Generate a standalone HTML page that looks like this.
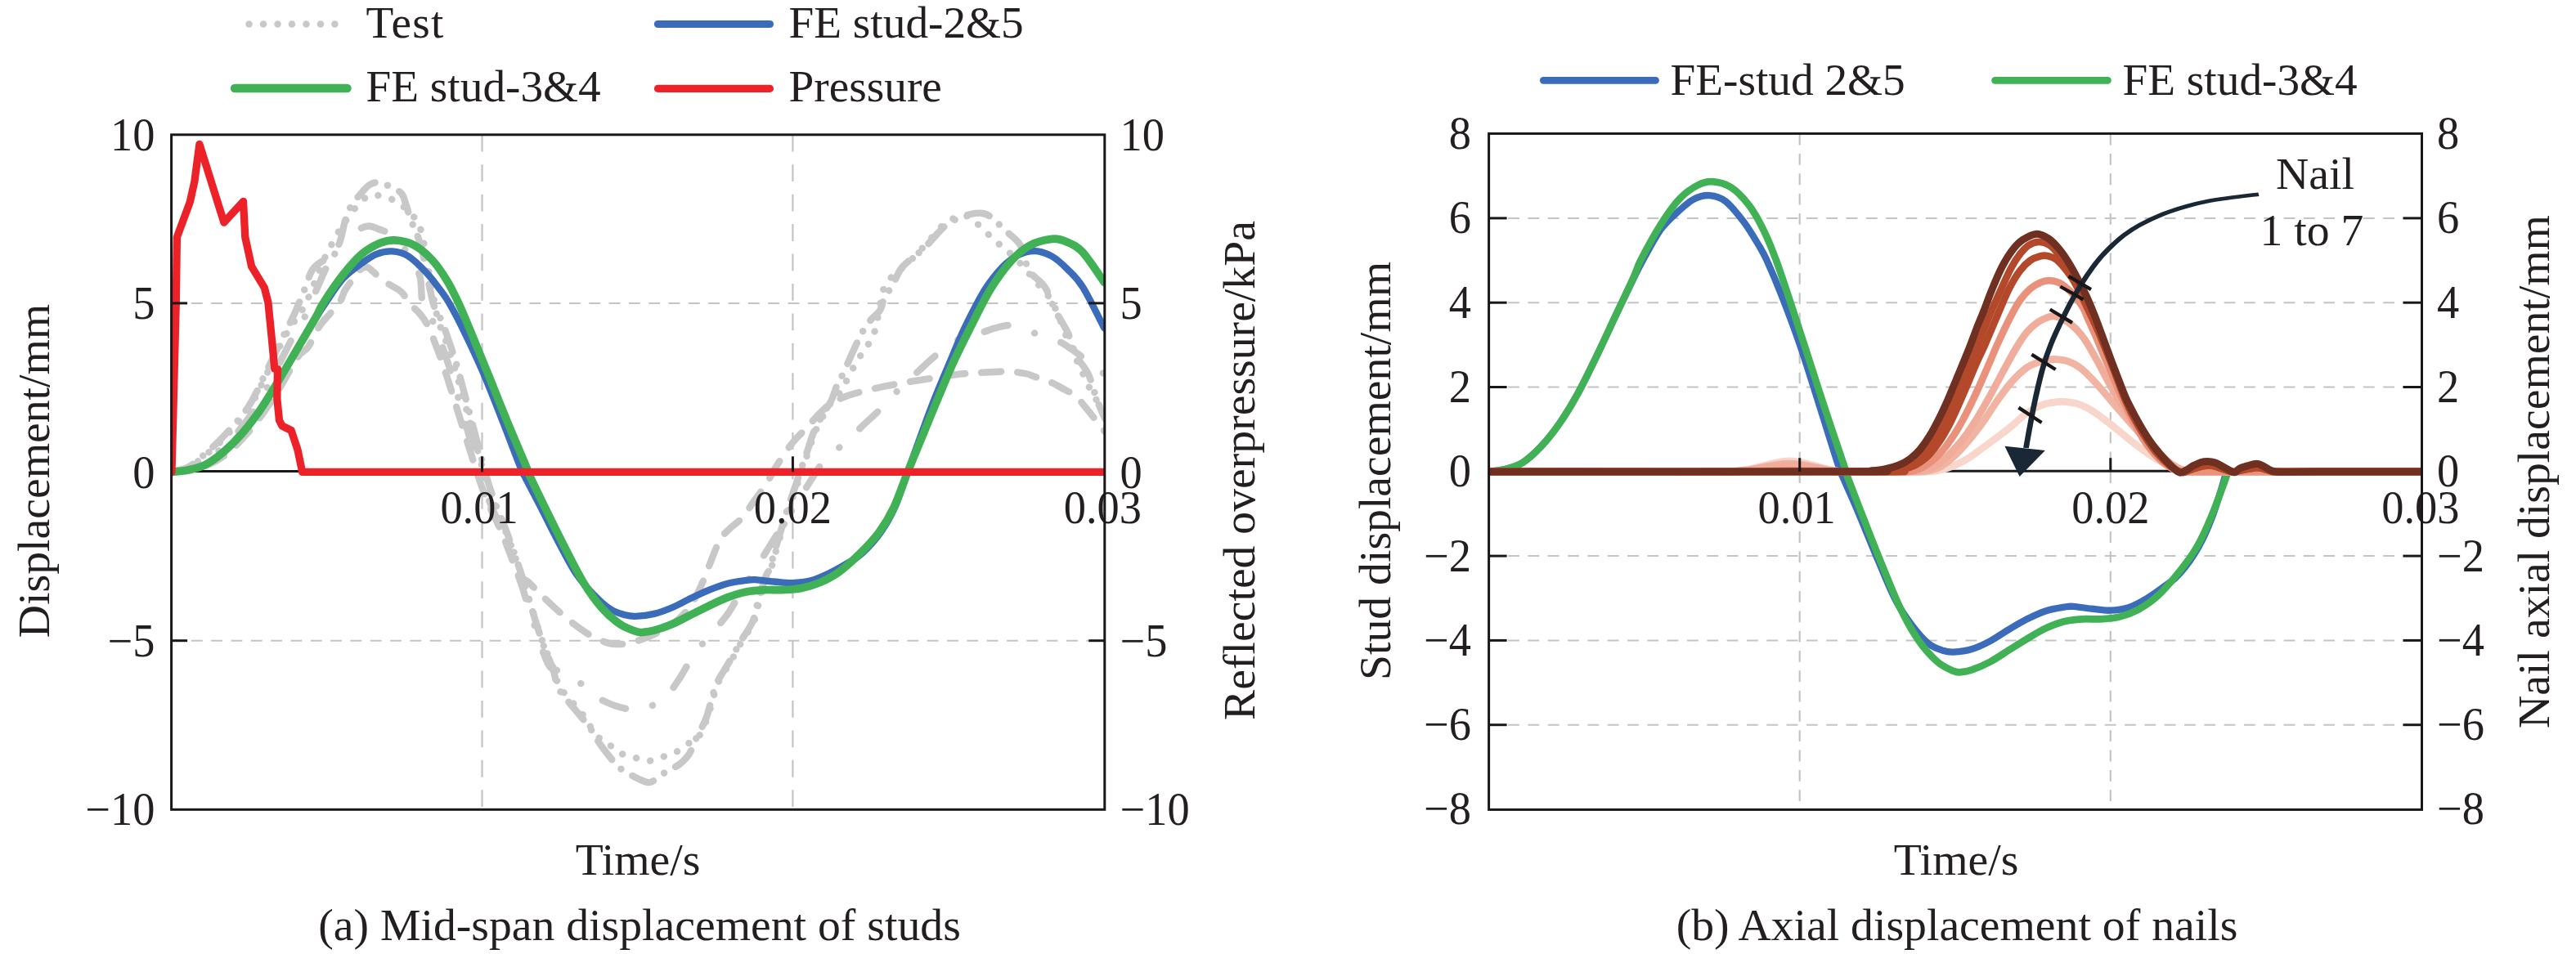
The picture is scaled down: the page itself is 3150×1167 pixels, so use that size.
<!DOCTYPE html>
<html lang="en"><head><meta charset="utf-8"><title>Figure</title>
<style>html,body{margin:0;padding:0;background:#fff}body{width:3150px;height:1167px;overflow:hidden}</style>
</head><body>
<svg width="3150" height="1167" viewBox="0 0 3150 1167" style="display:block;font-family:'Liberation Serif','Times New Roman',serif">
<rect width="3150" height="1167" fill="#fff"/>
<defs><clipPath id="cl"><rect x="209.6" y="164.8" width="1141.2" height="825.5"/></clipPath>
<clipPath id="cr"><rect x="1820.6" y="163.4" width="1140.9" height="827"/></clipPath></defs>
<g stroke="#c4c4c4" stroke-width="2" fill="none"><line x1="209.6" y1="370.9" x2="1350.8" y2="370.9" stroke-dasharray="13.8 10.52"/><line x1="209.6" y1="783.7" x2="1350.8" y2="783.7" stroke-dasharray="13.8 10.52"/><line x1="589.5" y1="164.8" x2="589.5" y2="987.3" stroke-dasharray="20.8 15.63" stroke-width="2.2"/><line x1="969.4" y1="164.8" x2="969.4" y2="987.3" stroke-dasharray="20.8 15.63" stroke-width="2.2"/></g>
<g clip-path="url(#cl)" fill="none" stroke="#c8c8c8" stroke-width="8.4" stroke-linecap="round" stroke-linejoin="round">
<path d="M210.0 577.0C213.3 576.2 223.2 575.3 230.0 572.0C236.8 568.7 243.5 563.2 251.0 557.0C258.5 550.8 266.2 544.5 275.0 535.0C283.8 525.5 295.7 512.5 304.0 500.0C312.3 487.5 318.2 473.7 325.0 460.0C331.8 446.3 339.2 429.2 345.0 418.0C350.8 406.8 355.5 400.2 360.0 393.0C364.5 385.8 367.8 383.0 372.0 375.0C376.2 367.0 381.2 354.2 385.0 345.0C388.8 335.8 392.0 326.8 395.0 320.0C398.0 313.2 400.2 309.5 403.0 304.0C405.8 298.5 409.2 292.0 412.0 287.0C414.8 282.0 417.0 278.5 420.0 274.0C423.0 269.5 426.3 264.7 430.0 260.0C433.7 255.3 438.0 249.6 442.0 246.0C446.0 242.4 449.3 239.3 454.0 238.5C458.7 237.7 464.7 239.6 470.0 241.0C475.3 242.4 481.1 244.1 486.0 247.0C490.9 249.9 495.3 254.3 499.5 258.5C503.7 262.7 508.2 267.2 511.0 272.0C513.8 276.8 514.6 281.7 516.0 287.0C517.4 292.3 518.2 296.8 519.5 304.0C520.8 311.2 522.5 321.3 524.0 330.0C525.5 338.7 527.4 348.8 528.7 356.0C530.0 363.2 530.8 367.0 532.0 373.0C533.2 379.0 533.6 384.7 535.8 392.0C538.0 399.3 542.2 408.7 545.2 417.0C548.2 425.3 551.0 433.7 553.6 442.0C556.2 450.3 558.6 458.7 561.0 467.0C563.4 475.3 565.6 483.7 567.9 492.0C570.2 500.3 572.5 508.7 574.8 517.0C577.1 525.3 579.4 533.7 581.7 542.0C583.9 550.3 586.2 558.7 588.5 567.0C590.9 575.3 593.2 583.7 595.9 592.0C598.6 600.3 601.5 608.7 604.7 617.0C608.0 625.3 611.9 633.7 615.2 642.0C618.6 650.3 621.7 658.7 624.8 667.0C627.8 675.3 630.8 683.7 633.6 692.0C636.5 700.3 639.3 708.7 642.0 717.0C644.6 725.3 647.1 733.7 649.7 742.0C652.3 750.3 654.8 758.7 657.6 767.0C660.3 775.3 663.0 783.7 666.2 792.0C669.4 800.3 673.9 809.3 676.6 817.0C679.4 824.7 680.4 832.5 683.0 838.0C685.6 843.5 687.2 844.2 692.0 850.0C696.8 855.8 706.5 866.1 711.5 872.6C716.5 879.1 717.9 883.3 721.8 888.7C725.7 894.1 730.9 901.1 735.0 905.0C739.1 908.9 742.5 909.4 746.7 912.2C750.9 915.0 755.0 919.5 760.0 921.9C765.0 924.3 771.1 925.4 776.7 926.9C782.3 928.4 788.2 930.9 793.7 930.7C799.2 930.6 804.4 927.7 809.8 926.0C815.2 924.3 821.0 923.0 826.0 920.4C831.0 917.8 835.7 912.8 840.0 910.2C844.3 907.6 848.0 909.9 852.0 905.0C856.0 900.1 861.2 887.3 864.0 881.0C866.8 874.7 866.3 874.2 868.5 867.0C870.7 859.8 873.9 845.8 877.0 838.0C880.1 830.2 883.8 825.5 887.0 820.0C890.2 814.5 892.7 810.8 896.0 805.0C899.3 799.2 902.7 792.5 907.0 785.0C911.3 777.5 918.3 768.7 922.0 760.0C925.7 751.3 926.3 742.2 929.0 733.0C931.7 723.8 935.7 711.3 938.0 705.0C940.3 698.7 941.0 700.8 943.0 695.0C945.0 689.2 947.4 678.8 950.0 670.0C952.6 661.2 955.9 650.7 958.6 642.0C961.3 633.3 963.4 625.8 966.0 618.0C968.6 610.2 971.3 602.8 974.0 595.0C976.7 587.2 979.3 578.8 982.0 571.0C984.7 563.2 987.7 554.8 990.0 548.0C992.3 541.2 993.2 536.7 996.0 530.0C998.8 523.3 1003.3 514.7 1007.0 508.0C1010.7 501.3 1014.3 495.0 1018.0 490.0C1021.7 485.0 1025.7 483.0 1029.0 478.0C1032.3 473.0 1034.8 466.0 1038.0 460.0C1041.2 454.0 1044.8 447.5 1048.0 442.0C1051.2 436.5 1054.3 431.8 1057.5 427.0C1060.7 422.2 1064.7 418.1 1067.0 413.0C1069.3 407.9 1070.3 402.0 1071.6 396.5C1072.9 391.0 1073.9 385.8 1075.0 380.0C1076.1 374.2 1076.5 367.7 1078.0 362.0C1079.5 356.3 1081.0 350.7 1084.0 346.0C1087.0 341.3 1091.8 337.9 1096.0 334.0C1100.2 330.1 1105.1 326.6 1109.4 322.6C1113.7 318.6 1117.2 315.1 1122.0 310.0C1126.8 304.9 1132.4 298.2 1138.0 292.0C1143.6 285.8 1150.3 277.3 1155.6 273.0C1160.9 268.7 1165.4 267.4 1170.0 266.0C1174.6 264.6 1179.3 263.8 1183.0 264.5C1186.7 265.2 1189.2 267.6 1192.0 270.0C1194.8 272.4 1196.1 275.2 1199.6 278.6C1203.1 282.0 1208.7 286.7 1213.0 290.6C1217.3 294.5 1221.5 298.5 1225.7 302.2C1229.9 305.9 1234.1 308.7 1238.3 312.6C1242.5 316.5 1246.1 320.4 1250.9 325.8C1255.7 331.2 1261.5 338.5 1267.0 345.0C1272.5 351.5 1279.2 357.8 1283.9 365.0C1288.6 372.2 1291.6 380.0 1295.0 388.0C1298.4 396.0 1301.8 406.2 1304.5 413.0C1307.2 419.8 1308.2 422.3 1311.0 428.5C1313.8 434.7 1317.4 442.2 1321.0 450.0C1324.6 457.8 1329.1 468.3 1332.8 475.5C1336.5 482.7 1340.0 487.8 1343.0 493.0C1346.0 498.2 1349.7 504.7 1351.0 507.0" stroke-dasharray="0.1 17.4"/>
<path d="M210.0 577.0C213.3 576.1 223.2 575.2 230.0 571.5C236.8 567.8 243.5 561.6 251.0 555.0C258.5 548.4 266.2 541.7 275.0 532.0C283.8 522.3 295.7 509.7 304.0 497.0C312.3 484.3 318.2 469.8 325.0 456.0C331.8 442.2 339.2 426.0 345.0 414.0C350.8 402.0 355.5 393.8 360.0 384.0C364.5 374.2 368.3 364.0 372.0 355.0C375.7 346.0 378.2 336.0 382.0 330.0C385.8 324.0 390.5 322.2 395.0 319.0C399.5 315.8 405.8 314.2 409.0 311.0C412.2 307.8 412.7 303.3 414.0 300.0C415.3 296.7 415.7 296.0 417.0 291.0C418.3 286.0 420.5 275.5 422.0 270.0C423.5 264.5 424.2 261.8 426.0 258.0C427.8 254.2 430.6 250.4 433.0 247.0C435.4 243.6 437.4 241.0 440.6 237.5C443.8 234.0 448.0 228.4 452.0 226.0C456.0 223.6 460.5 222.5 464.8 223.0C469.1 223.5 473.6 226.7 478.0 229.0C482.4 231.3 487.8 232.9 491.0 236.7C494.2 240.5 495.2 246.9 497.0 252.0C498.8 257.1 499.8 262.3 501.5 267.0C503.2 271.7 505.2 275.8 507.0 280.0C508.8 284.2 510.3 287.5 512.0 292.5C513.7 297.5 515.5 303.8 517.0 310.0C518.5 316.2 519.5 322.5 521.0 330.0C522.5 337.5 524.3 347.5 526.0 355.0C527.7 362.5 528.7 368.8 531.0 375.0C533.3 381.2 536.8 385.0 539.8 392.0C542.8 399.0 546.0 408.7 548.9 417.0C551.8 425.3 554.5 433.7 557.0 442.0C559.6 450.3 561.8 458.7 564.1 467.0C566.4 475.3 568.5 483.7 570.7 492.0C572.9 500.3 575.1 508.7 577.3 517.0C579.5 525.3 581.7 533.7 583.9 542.0C586.1 550.3 588.2 558.7 590.5 567.0C592.8 575.3 594.9 583.7 597.5 592.0C600.1 600.3 603.0 608.7 606.1 617.0C609.2 625.3 613.0 633.7 616.3 642.0C619.5 650.3 622.6 658.7 625.5 667.0C628.5 675.3 631.3 683.7 634.1 692.0C636.9 700.3 639.6 708.7 642.1 717.0C644.7 725.3 647.0 733.7 649.5 742.0C652.0 750.3 654.5 758.7 657.2 767.0C659.8 775.3 662.4 783.7 665.5 792.0C668.6 800.3 672.9 809.0 675.6 817.0C678.4 825.0 679.6 834.2 682.0 840.0C684.4 845.8 685.5 846.2 690.0 852.0C694.5 857.8 703.7 868.5 709.0 875.0C714.3 881.5 717.5 884.8 721.8 891.0C726.1 897.2 729.4 904.3 735.0 912.0C740.6 919.7 749.7 931.4 755.5 937.2C761.3 943.0 765.6 944.3 770.0 947.0C774.4 949.7 777.8 951.6 782.0 953.3C786.2 955.0 790.6 957.9 795.0 957.0C799.4 956.1 804.2 950.7 808.4 948.0C812.6 945.3 816.1 943.3 820.0 941.0C823.9 938.7 828.0 937.4 831.8 934.2C835.6 931.0 839.9 926.9 843.0 922.0C846.1 917.1 847.2 911.8 850.5 905.0C853.8 898.2 859.8 887.3 862.5 881.0C865.2 874.7 864.8 874.2 867.0 867.0C869.2 859.8 872.4 845.8 875.5 838.0C878.6 830.2 882.3 825.5 885.5 820.0C888.7 814.5 891.2 810.8 894.5 805.0C897.8 799.2 901.2 792.5 905.5 785.0C909.8 777.5 916.8 768.7 920.5 760.0C924.2 751.3 924.8 742.2 927.5 733.0C930.2 723.8 934.2 711.3 936.5 705.0C938.8 698.7 939.5 700.8 941.5 695.0C943.5 689.2 945.9 678.8 948.5 670.0C951.1 661.2 954.4 650.7 957.1 642.0C959.8 633.3 961.9 625.8 964.5 618.0C967.1 610.2 969.8 602.8 972.5 595.0C975.2 587.2 977.8 578.8 980.5 571.0C983.2 563.2 986.2 554.8 988.5 548.0C990.8 541.2 991.7 536.7 994.5 530.0C997.3 523.3 1001.8 514.7 1005.5 508.0C1009.2 501.3 1013.4 496.3 1016.5 490.0C1019.6 483.7 1021.6 475.5 1024.0 470.0C1026.4 464.5 1028.0 463.2 1031.0 457.0C1034.0 450.8 1038.6 439.7 1041.8 432.7C1045.0 425.7 1047.4 420.2 1050.0 415.0C1052.6 409.8 1054.8 405.5 1057.5 401.3C1060.2 397.1 1062.8 393.7 1066.0 390.0C1069.2 386.3 1073.7 383.7 1076.4 379.0C1079.1 374.3 1079.7 366.7 1082.0 362.0C1084.3 357.3 1087.2 356.5 1090.5 351.0C1093.8 345.5 1097.4 334.8 1101.5 329.0C1105.6 323.2 1110.3 320.2 1115.0 316.0C1119.7 311.8 1124.2 309.2 1129.8 303.8C1135.4 298.4 1143.7 288.4 1148.7 283.3C1153.7 278.2 1156.3 275.6 1160.0 273.0C1163.7 270.4 1166.2 269.4 1170.7 267.6C1175.2 265.8 1181.8 263.1 1187.0 262.0C1192.2 260.9 1197.5 260.2 1202.0 261.0C1206.5 261.8 1209.8 263.8 1214.0 267.0C1218.2 270.2 1221.9 275.1 1227.3 280.2C1232.7 285.3 1241.9 291.7 1246.2 297.5C1250.5 303.3 1250.9 309.2 1253.0 315.0C1255.1 320.8 1254.6 326.0 1258.7 332.0C1262.8 338.0 1272.4 343.2 1277.6 351.0C1282.8 358.8 1286.6 372.0 1290.0 379.0C1293.4 386.0 1295.3 388.2 1298.0 393.0C1300.7 397.8 1303.7 402.2 1306.0 407.5C1308.3 412.8 1309.9 419.8 1312.0 425.0C1314.1 430.2 1315.3 433.5 1318.5 439.0C1321.7 444.5 1327.2 449.8 1331.0 458.0C1334.8 466.2 1337.7 479.0 1341.0 488.0C1344.3 497.0 1349.3 508.0 1351.0 512.0" stroke-dasharray="28 16 0.1 16"/>
<path d="M210.0 577.0C213.7 576.3 224.5 575.7 232.0 573.0C239.5 570.3 247.0 566.5 255.0 561.0C263.0 555.5 271.7 548.5 280.0 540.0C288.3 531.5 297.0 521.3 305.0 510.0C313.0 498.7 320.8 485.0 328.0 472.0C335.2 459.0 342.3 443.2 348.0 432.0C353.7 420.8 357.8 412.7 362.0 405.0C366.2 397.3 370.2 392.5 373.5 386.0C376.8 379.5 379.2 372.5 382.0 366.0C384.8 359.5 387.3 353.6 390.3 346.8C393.3 340.0 396.6 332.3 400.0 325.0C403.4 317.7 407.7 308.0 411.0 303.0C414.3 298.0 417.3 297.1 420.0 295.0C422.7 292.9 424.0 292.9 427.0 290.6C430.0 288.3 434.0 283.4 438.0 281.0C442.0 278.6 446.5 276.5 451.0 276.5C455.5 276.5 460.3 279.2 465.0 281.0C469.7 282.8 475.2 284.2 479.4 287.0C483.6 289.8 486.6 293.8 490.0 298.0C493.4 302.2 497.0 307.3 500.0 312.0C503.0 316.7 505.7 321.2 508.0 326.0C510.3 330.8 512.6 333.6 514.0 340.5C515.4 347.4 515.1 360.3 516.1 367.7C517.1 375.1 517.9 380.9 520.0 385.0C522.1 389.1 525.7 386.7 528.8 392.0C531.9 397.3 535.4 408.7 538.4 417.0C541.5 425.3 544.4 433.7 547.1 442.0C549.8 450.3 552.3 458.7 554.7 467.0C557.2 475.3 559.5 483.7 561.9 492.0C564.3 500.3 566.6 508.7 569.0 517.0C571.4 525.3 573.8 533.7 576.1 542.0C578.5 550.3 580.8 558.7 583.3 567.0C585.7 575.3 588.1 583.7 590.9 592.0C593.7 600.3 596.7 608.7 600.0 617.0C603.3 625.3 607.3 633.7 610.7 642.0C614.1 650.3 617.3 658.7 620.5 667.0C623.6 675.3 626.6 683.7 629.6 692.0C632.5 700.3 635.4 708.7 638.2 717.0C640.9 725.3 643.4 733.7 646.1 742.0C648.8 750.3 651.3 757.8 654.3 767.0C657.2 776.2 660.8 788.7 664.0 797.0C667.2 805.3 669.1 812.6 673.4 816.8C677.7 821.0 684.5 819.4 690.0 822.0C695.5 824.6 701.8 828.6 706.5 832.4C711.2 836.2 714.0 841.5 718.0 845.0C722.0 848.5 726.1 850.9 730.6 853.5C735.1 856.1 740.4 858.5 745.0 860.5C749.6 862.5 753.8 864.0 758.5 865.3C763.2 866.5 768.2 867.6 773.0 868.0C777.8 868.4 782.0 868.8 787.0 867.5C792.0 866.2 798.0 863.1 803.0 860.0C808.0 856.9 812.4 854.3 817.2 849.1C822.0 843.9 827.8 834.6 831.8 828.6C835.8 822.6 837.9 817.9 841.0 813.0C844.1 808.1 847.0 803.9 850.3 799.2C853.6 794.5 857.5 789.4 861.0 785.0C864.5 780.6 866.8 778.2 871.5 772.8C876.2 767.3 883.2 760.4 889.0 752.3C894.8 744.2 900.2 733.5 906.0 724.0C911.8 714.5 918.4 704.5 924.0 695.6C929.6 686.7 933.7 680.0 939.7 670.4C945.7 660.8 952.5 650.1 960.0 638.0C967.5 625.9 977.1 610.4 985.0 598.0C992.9 585.6 1001.6 571.2 1007.4 563.5C1013.2 555.8 1015.6 555.7 1020.0 552.0C1024.4 548.3 1028.5 546.4 1034.0 541.5C1039.5 536.6 1045.7 529.7 1053.0 522.6C1060.3 515.5 1070.2 506.9 1078.0 499.0C1085.8 491.1 1092.7 482.8 1100.0 475.5C1107.3 468.2 1114.2 462.1 1122.0 455.0C1129.8 447.9 1137.8 439.9 1146.7 433.0C1155.6 426.1 1166.5 417.9 1175.6 413.5C1184.6 409.1 1193.9 408.6 1201.0 406.5C1208.1 404.4 1212.5 402.4 1218.0 401.0C1223.5 399.6 1228.9 397.8 1234.2 398.0C1239.5 398.2 1244.9 400.4 1250.0 402.0C1255.1 403.6 1257.8 405.0 1265.0 407.5C1272.2 410.0 1285.8 413.8 1293.3 417.0C1300.8 420.2 1304.7 423.5 1310.0 427.0C1315.3 430.5 1320.0 434.2 1325.0 438.0C1330.0 441.8 1335.7 446.7 1340.0 450.0C1344.3 453.3 1349.2 456.7 1351.0 458.0" stroke-dasharray="30 34 0.1 34"/>
<path d="M210.0 577.0C215.0 576.5 229.2 577.3 240.0 574.0C250.8 570.7 263.3 565.8 275.0 557.0C286.7 548.2 299.2 534.2 310.0 521.0C320.8 507.8 331.0 492.0 340.0 478.0C349.0 464.0 357.9 445.9 364.0 437.0C370.1 428.1 372.4 430.9 376.7 424.7C381.0 418.5 385.6 406.7 390.0 400.0C394.4 393.3 398.6 389.5 402.9 384.5C407.1 379.5 412.4 374.7 415.5 369.8C418.6 364.9 419.0 360.1 421.8 355.2C424.6 350.3 429.3 344.7 432.3 340.5C435.3 336.3 437.4 332.3 440.0 330.0C442.6 327.7 445.3 326.2 448.0 326.5C450.7 326.8 453.4 329.9 456.0 332.0C458.6 334.1 460.7 336.9 463.7 339.4C466.7 341.9 469.6 343.8 474.2 346.8C478.8 349.8 486.8 353.5 491.0 357.3C495.2 361.1 495.6 365.3 499.4 369.8C503.2 374.3 509.9 379.5 514.0 384.5C518.1 389.5 520.7 393.2 524.0 400.0C527.3 406.8 530.8 416.7 534.0 425.0C537.2 433.3 540.2 441.7 543.0 450.0C545.8 458.3 548.4 466.7 551.0 475.0C553.6 483.3 556.2 491.7 558.8 500.0C561.4 508.3 564.0 516.7 566.6 525.0C569.2 533.3 571.8 541.7 574.4 550.0C577.0 558.3 579.5 566.7 582.2 575.0C585.0 583.3 587.7 591.7 590.8 600.0C594.0 608.3 597.5 616.7 601.2 625.0C604.9 633.3 609.4 641.7 613.0 650.0C616.6 658.3 619.3 666.2 622.8 675.0C626.3 683.8 630.1 696.8 634.0 703.0C637.9 709.2 641.3 707.8 646.0 712.0C650.7 716.2 656.3 722.5 662.0 728.0C667.7 733.5 673.7 739.3 680.0 745.0C686.3 750.7 693.3 756.8 700.0 762.0C706.7 767.2 713.3 772.1 720.0 776.0C726.7 779.9 734.6 783.5 740.0 785.5C745.4 787.5 747.9 787.8 752.6 788.0C757.3 788.2 762.6 788.0 768.0 787.0C773.4 786.0 779.7 783.8 785.0 782.0C790.3 780.2 795.0 778.3 800.0 776.0C805.0 773.7 810.0 771.2 815.0 768.0C820.0 764.8 825.0 761.7 830.0 757.0C835.0 752.3 840.3 747.0 845.0 740.0C849.7 733.0 854.2 723.3 858.0 715.0C861.8 706.7 864.3 699.0 868.0 690.0C871.7 681.0 876.0 668.2 880.0 661.0C884.0 653.8 887.3 651.7 892.0 647.0C896.7 642.3 903.0 638.7 908.0 633.0C913.0 627.3 917.2 619.8 922.0 613.0C926.8 606.2 932.5 599.0 937.0 592.0C941.5 585.0 944.8 577.8 949.0 571.0C953.2 564.2 957.8 556.8 962.0 551.0C966.2 545.2 969.8 540.7 974.0 536.0C978.2 531.3 982.7 527.7 987.0 523.0C991.3 518.3 995.3 512.8 1000.0 508.0C1004.7 503.2 1010.2 497.5 1015.0 494.0C1019.8 490.5 1024.3 489.0 1029.0 487.0C1033.7 485.0 1035.3 484.2 1043.0 482.0C1050.7 479.8 1064.5 476.3 1075.0 474.0C1085.5 471.7 1095.5 469.8 1106.0 468.0C1116.5 466.2 1126.8 464.7 1138.0 463.0C1149.2 461.3 1163.2 458.9 1173.0 457.7C1182.8 456.5 1187.2 456.6 1197.0 456.0C1206.8 455.4 1222.5 454.2 1232.0 454.4C1241.5 454.6 1248.3 455.9 1254.0 457.0C1259.7 458.1 1260.7 459.2 1266.0 461.0C1271.3 462.8 1280.7 465.8 1286.0 468.0C1291.3 470.2 1293.0 471.7 1298.0 474.5C1303.0 477.3 1311.6 481.2 1316.0 484.6C1320.4 488.0 1320.7 490.1 1324.4 494.6C1328.1 499.1 1334.4 506.9 1338.0 511.4C1341.6 515.9 1343.8 518.7 1346.0 521.5C1348.2 524.3 1350.2 526.9 1351.0 528.0" stroke-dasharray="24 20"/>
</g>
<g stroke="#1a1718" stroke-width="3" fill="none">
<line x1="209.6" y1="576.5" x2="1350.8" y2="576.5"/>
</g>
<text transform="translate(586.0 640.0) scale(0.955 1)" font-size="57" text-anchor="middle" fill="#231f20">0.01</text>
<text transform="translate(969.4 640.0) scale(0.955 1)" font-size="57" text-anchor="middle" fill="#231f20">0.02</text>
<text transform="translate(1348.3 640.0) scale(0.955 1)" font-size="57" text-anchor="middle" fill="#231f20">0.03</text>
<g clip-path="url(#cl)" fill="none" stroke-linecap="round" stroke-linejoin="round">
<path d="M209.6 577.3C212.7 577.0 221.5 576.8 228.4 575.3C235.3 573.8 243.4 572.3 250.9 568.6C258.4 564.8 266.0 559.2 273.5 552.8C281.0 546.4 288.5 538.9 296.0 530.3C303.5 521.7 311.0 511.9 318.5 501.0C326.0 490.1 333.6 477.3 341.1 464.9C348.6 452.5 356.1 439.4 363.6 426.8C371.1 414.2 380.4 398.5 386.1 389.3C391.7 380.0 392.0 379.4 397.6 371.3C403.1 363.2 412.1 349.0 419.5 340.8C427.0 332.6 435.6 327.0 442.4 322.0C449.3 317.0 454.3 313.2 460.4 310.8C466.6 308.4 473.1 307.0 479.5 307.4C485.9 307.8 491.8 308.7 498.7 313.0C505.7 317.3 514.5 326.2 521.2 333.3C528.0 340.4 534.6 349.6 539.2 355.8C543.8 362.0 544.4 362.2 549.0 370.3C553.6 378.3 559.8 389.8 566.8 404.1C573.8 418.4 582.9 437.5 590.8 455.9C598.7 474.3 606.6 495.0 614.3 514.5C622.0 534.0 632.2 561.3 637.0 573.1C641.8 584.9 639.0 577.6 642.9 585.3C646.8 593.0 653.7 605.9 660.5 619.1C667.2 632.2 676.1 650.3 683.5 664.2C690.9 678.1 697.9 692.0 705.0 702.5C712.1 713.0 719.0 720.2 726.0 727.3C732.9 734.4 740.1 741.1 746.6 745.3C753.0 749.5 759.3 750.9 764.5 752.3C769.6 753.7 771.4 754.0 777.4 753.8C783.3 753.6 792.4 752.7 799.9 750.9C807.5 749.1 814.9 746.2 822.4 743.0C829.9 739.8 837.4 735.4 844.9 731.8C852.4 728.2 859.9 724.6 867.4 721.6C874.9 718.6 882.5 715.6 890.0 713.7C897.5 711.8 906.9 710.6 912.5 709.9C918.1 709.1 918.2 708.9 923.8 709.2C929.4 709.5 938.8 710.9 946.3 711.5C953.8 712.1 961.4 713.3 968.9 713.1C976.4 712.9 983.9 712.3 991.4 710.3C998.9 708.3 1006.4 704.9 1013.9 701.3C1021.4 697.7 1029.7 692.9 1036.4 688.9C1043.0 684.9 1047.1 683.6 1053.9 677.3C1060.6 671.0 1070.1 660.8 1076.9 651.3C1083.6 641.8 1088.8 632.8 1094.4 620.3C1099.9 607.8 1104.7 592.0 1110.4 576.3C1116.0 560.6 1122.9 541.1 1128.4 526.1C1133.9 511.1 1138.0 499.7 1143.4 486.3C1148.7 472.9 1154.4 459.7 1160.3 445.6C1166.3 431.5 1172.0 416.8 1179.3 401.6C1186.7 386.4 1196.5 366.9 1204.3 354.3C1212.2 341.7 1219.5 333.2 1226.3 326.1C1233.2 319.0 1238.7 315.0 1245.3 311.9C1251.9 308.8 1259.1 306.9 1265.9 307.2C1272.8 307.5 1279.8 309.8 1286.3 313.5C1292.9 317.2 1298.9 322.9 1305.2 329.2C1311.5 335.5 1316.6 339.3 1324.1 351.3C1331.6 363.3 1345.9 393.0 1350.3 401.3" stroke="#3a6cba" stroke-width="8.3"/>
<path d="M209.6 577.3C212.7 577.0 221.5 576.8 228.4 575.3C235.3 573.8 243.4 572.3 250.9 568.6C258.4 564.8 266.0 559.2 273.5 552.8C281.0 546.4 288.5 538.9 296.0 530.3C303.5 521.7 311.0 511.9 318.5 501.0C326.0 490.1 333.6 477.3 341.1 464.9C348.6 452.5 356.1 439.4 363.6 426.6C371.1 413.8 380.7 397.7 386.1 388.3C391.4 378.9 389.9 379.1 395.6 370.3C401.2 361.5 412.0 345.5 419.8 335.6C427.7 325.7 434.9 317.2 442.4 310.8C450.0 304.4 458.2 300.1 464.9 297.3C471.7 294.5 476.2 293.5 482.9 293.9C489.7 294.3 498.0 295.6 505.5 299.5C513.0 303.4 521.3 310.4 528.0 317.5C534.8 324.6 540.6 333.5 546.0 342.3C551.4 351.1 555.7 360.0 560.5 370.3C565.3 380.6 568.9 389.4 575.0 404.1C581.1 418.7 589.6 439.8 597.1 458.2C604.6 476.6 612.1 495.7 619.8 514.5C627.5 533.3 638.6 559.0 643.5 570.8C648.4 582.6 645.2 576.5 649.3 585.3C653.3 594.1 661.0 609.7 667.8 623.6C674.6 637.5 682.7 654.0 690.2 668.7C697.7 683.3 705.3 699.1 712.8 711.5C720.3 723.9 727.8 734.4 735.3 743.0C742.8 751.6 750.7 758.4 757.8 763.3C764.8 768.2 772.6 770.6 777.4 772.3C782.1 774.0 782.6 773.6 786.3 773.4C790.1 773.2 793.9 772.9 799.9 771.2C806.0 769.5 814.9 766.5 822.4 763.3C829.9 760.1 837.4 755.8 844.9 752.0C852.4 748.2 859.9 744.4 867.4 740.8C874.9 737.2 882.5 733.4 890.0 730.6C897.5 727.8 905.0 725.4 912.5 723.9C920.0 722.4 927.5 722.0 935.0 721.6C942.5 721.2 950.1 722.0 957.6 721.6C965.1 721.2 972.6 720.9 980.1 719.4C987.6 717.9 995.1 715.8 1002.6 712.6C1010.1 709.4 1017.2 705.9 1025.2 700.2C1033.1 694.5 1042.2 686.3 1050.4 678.3C1058.6 670.2 1067.2 661.6 1074.4 651.9C1081.5 642.2 1087.2 632.9 1093.2 620.3C1099.2 607.7 1104.1 592.0 1110.4 576.3C1116.7 560.6 1124.8 541.1 1131.0 526.1C1137.1 511.1 1141.6 499.9 1147.4 486.3C1153.1 472.7 1158.9 458.5 1165.3 444.3C1171.8 430.1 1178.7 416.3 1186.3 401.3C1193.9 386.3 1202.7 367.9 1210.9 354.3C1219.2 340.7 1228.2 328.7 1236.0 319.8C1243.9 310.9 1249.6 305.5 1258.0 300.9C1266.4 296.3 1278.5 293.2 1286.3 292.4C1294.2 291.6 1298.9 293.5 1305.2 296.2C1311.5 298.9 1316.6 300.6 1324.1 308.8C1331.6 317.0 1345.9 339.2 1350.3 345.3" stroke="#41b155" stroke-width="9.7"/>
<path d="M210.0 577.4L215.3 370.0L216.4 290.2L232.2 247.4L237.8 222.6L243.9 176.4L273.9 272.2L297.5 246.3L299.8 290.2L307.7 326.2L323.4 352.2L327.9 370.0L332.4 415.0L335.8 451.1L339.5 451.5L338.8 487.2L341.5 514.2L345.0 521.0L356.1 526.5L364.0 550.3L369.6 577.4L1351.0 577.4" stroke="#ec2228" stroke-width="9.3" stroke-linejoin="round"/>
</g>
<g stroke="#1a1718" stroke-width="3" fill="none">
<line x1="589.5" y1="558.3" x2="589.5" y2="577.3"/>
<line x1="969.4" y1="558.3" x2="969.4" y2="577.3"/>
<line x1="209.6" y1="370.9" x2="229.1" y2="370.9"/>
<line x1="1331.3" y1="370.9" x2="1350.8" y2="370.9"/>
<line x1="209.6" y1="783.7" x2="229.1" y2="783.7"/>
<line x1="1331.3" y1="783.7" x2="1350.8" y2="783.7"/>
<rect x="209.6" y="164.8" width="1141.2" height="825.5"/>
</g>
<text transform="translate(189.5 183.8) scale(0.955 1)" font-size="57" text-anchor="end" fill="#231f20">10</text>
<text transform="translate(1369.5 183.8) scale(0.955 1)" font-size="57" text-anchor="start" fill="#231f20">10</text>
<text transform="translate(189.5 390.2) scale(0.955 1)" font-size="57" text-anchor="end" fill="#231f20">5</text>
<text transform="translate(1369.5 390.2) scale(0.955 1)" font-size="57" text-anchor="start" fill="#231f20">5</text>
<text transform="translate(189.5 596.6) scale(0.955 1)" font-size="57" text-anchor="end" fill="#231f20">0</text>
<text transform="translate(1369.5 596.6) scale(0.955 1)" font-size="57" text-anchor="start" fill="#231f20">0</text>
<text transform="translate(189.5 803.0) scale(0.955 1)" font-size="57" text-anchor="end" fill="#231f20">−5</text>
<text transform="translate(1369.5 803.0) scale(0.955 1)" font-size="57" text-anchor="start" fill="#231f20">−5</text>
<text transform="translate(189.5 1009.4) scale(0.955 1)" font-size="57" text-anchor="end" fill="#231f20">−10</text>
<text transform="translate(1369.5 1009.4) scale(0.955 1)" font-size="57" text-anchor="start" fill="#231f20">−10</text>
<text transform="translate(60.3 576.0) rotate(-90)" font-size="55.7" text-anchor="middle" fill="#231f20">Displacement/mm</text>
<text transform="translate(1534.0 575.5) rotate(-90)" font-size="55.7" text-anchor="middle" fill="#231f20">Reflected overpressure/kPa</text>
<text x="780.0" y="1069.5" font-size="55.7" text-anchor="middle" fill="#231f20">Time/s</text>
<text x="782.0" y="1149.5" font-size="55.7" text-anchor="middle" fill="#231f20">(a) Mid-span displacement of studs</text>
<g fill="none" stroke-linecap="round">
<line x1="304.5" y1="29.5" x2="409.5" y2="29.5" stroke="#c8c8c8" stroke-width="8.5" stroke-dasharray="0.1 17.38"/>
<line x1="287" y1="108" x2="424.6" y2="108" stroke="#41b155" stroke-width="10.3"/>
<line x1="804.4" y1="29.5" x2="941.5" y2="29.5" stroke="#3a6cba" stroke-width="9.1"/>
<line x1="804.4" y1="108.4" x2="941.5" y2="108.4" stroke="#ec2228" stroke-width="9.1"/>
</g>
<text x="447.5" y="46.0" font-size="55.3" text-anchor="start" fill="#231f20" letter-spacing="1.2">Test</text>
<text x="447.5" y="124.0" font-size="55.3" text-anchor="start" fill="#231f20">FE stud-3&amp;4</text>
<text x="964.5" y="46.0" font-size="55.3" text-anchor="start" fill="#231f20">FE stud-2&amp;5</text>
<text x="964.5" y="124.0" font-size="55.3" text-anchor="start" fill="#231f20">Pressure</text>
<g stroke="#c4c4c4" stroke-width="2" fill="none"><line x1="1819.8" y1="266.9" x2="2961.5" y2="266.9" stroke-dasharray="13.8 10.52"/><line x1="1819.8" y1="370.2" x2="2961.5" y2="370.2" stroke-dasharray="13.8 10.52"/><line x1="1819.8" y1="473.5" x2="2961.5" y2="473.5" stroke-dasharray="13.8 10.52"/><line x1="1819.8" y1="680.1" x2="2961.5" y2="680.1" stroke-dasharray="13.8 10.52"/><line x1="1819.8" y1="783.4" x2="2961.5" y2="783.4" stroke-dasharray="13.8 10.52"/><line x1="1819.8" y1="886.7" x2="2961.5" y2="886.7" stroke-dasharray="13.8 10.52"/><line x1="2200.7" y1="163.7" x2="2200.7" y2="990.4" stroke-dasharray="13.8 10.52" stroke-width="2.2"/><line x1="2580.8" y1="163.7" x2="2580.8" y2="990.4" stroke-dasharray="13.8 10.52" stroke-width="2.2"/></g>
<g stroke="#1a1718" stroke-width="3" fill="none">
<line x1="1820.6" y1="576.3" x2="2961.5" y2="576.3"/>
</g>
<text transform="translate(2197.2 640.0) scale(0.955 1)" font-size="57" text-anchor="middle" fill="#231f20">0.01</text>
<text transform="translate(2580.8 640.0) scale(0.955 1)" font-size="57" text-anchor="middle" fill="#231f20">0.02</text>
<text transform="translate(2959.9 640.0) scale(0.955 1)" font-size="57" text-anchor="middle" fill="#231f20">0.03</text>
<g clip-path="url(#cr)" fill="none" stroke-linecap="round" stroke-linejoin="round">
<path d="M1820.6 576.8C1823.7 576.4 1832.5 576.1 1839.4 574.3C1846.3 572.5 1854.4 570.6 1861.9 565.9C1869.4 561.2 1877.0 554.1 1884.5 546.1C1892.0 538.2 1899.5 528.8 1907.0 518.0C1914.5 507.2 1922.0 495.0 1929.5 481.3C1937.0 467.7 1944.6 451.6 1952.1 436.2C1959.7 420.7 1967.1 404.3 1974.6 388.5C1982.1 372.7 1991.5 353.1 1997.1 341.6C2002.8 330.0 2003.1 329.2 2008.6 319.1C2014.2 308.9 2023.2 291.2 2030.7 280.9C2038.1 270.6 2046.7 263.6 2053.6 257.4C2060.4 251.1 2065.4 246.4 2071.6 243.4C2077.8 240.3 2084.3 238.6 2090.7 239.1C2097.1 239.6 2102.9 240.7 2109.9 246.1C2116.8 251.5 2125.6 262.6 2132.4 271.5C2139.1 280.4 2145.8 291.9 2150.4 299.7C2155.0 307.4 2155.6 307.7 2160.2 317.8C2164.8 327.9 2171.0 342.2 2178.0 360.1C2185.0 377.9 2194.1 401.9 2202.0 424.9C2209.9 447.9 2217.7 473.8 2225.5 498.2C2233.3 522.7 2243.8 556.8 2248.7 571.5C2253.6 586.3 2250.9 577.2 2254.9 586.8C2259.0 596.4 2266.3 612.6 2273.3 629.1C2280.2 645.6 2289.2 668.1 2296.6 685.5C2304.0 702.9 2310.8 720.3 2317.7 733.5C2324.5 746.6 2331.0 755.6 2337.7 764.5C2344.4 773.4 2351.5 781.8 2357.8 787.0C2364.2 792.2 2370.6 794.0 2375.7 795.8C2380.9 797.5 2382.7 797.9 2388.6 797.6C2394.6 797.3 2403.7 796.3 2411.3 794.0C2418.8 791.8 2426.3 788.1 2433.8 784.1C2441.3 780.1 2448.8 774.6 2456.3 770.1C2463.8 765.6 2471.3 761.1 2478.8 757.3C2486.3 753.6 2493.9 749.9 2501.4 747.5C2508.9 745.0 2518.3 743.6 2523.9 742.7C2529.5 741.8 2529.6 741.5 2535.2 741.8C2540.8 742.2 2550.2 743.9 2557.7 744.7C2565.2 745.5 2572.8 747.0 2580.3 746.7C2587.8 746.5 2595.3 745.7 2602.8 743.2C2610.3 740.8 2617.8 736.4 2625.3 732.0C2632.8 727.5 2641.1 721.4 2647.8 716.4C2654.5 711.4 2658.6 709.8 2665.3 701.9C2672.1 694.1 2681.6 681.3 2688.3 669.4C2695.1 657.5 2700.2 645.8 2705.8 630.6C2711.5 615.4 2719.5 587.1 2722.2 578.3" stroke="#3a6cba" stroke-width="8.3"/>
<path d="M1820.6 576.8C1823.7 576.4 1832.5 576.1 1839.4 574.3C1846.3 572.5 1854.4 570.6 1861.9 565.9C1869.4 561.2 1877.0 554.1 1884.5 546.1C1892.0 538.2 1899.5 528.8 1907.0 518.0C1914.5 507.2 1922.0 495.0 1929.5 481.3C1937.0 467.7 1944.6 451.7 1952.1 436.2C1959.7 420.6 1967.1 404.2 1974.6 388.2C1982.1 372.3 1991.8 352.1 1997.1 340.3C2002.5 328.6 2001.0 328.8 2006.6 317.8C2012.3 306.8 2023.1 286.8 2031.0 274.4C2038.8 262.0 2046.0 251.3 2053.6 243.4C2061.1 235.4 2069.3 230.0 2076.1 226.5C2082.8 222.9 2087.3 221.7 2094.1 222.2C2100.8 222.7 2109.2 224.3 2116.7 229.2C2124.2 234.1 2132.4 242.8 2139.2 251.7C2145.9 260.7 2151.8 271.8 2157.2 282.8C2162.6 293.8 2166.9 304.9 2171.7 317.8C2176.5 330.7 2180.1 341.8 2186.2 360.1C2192.3 378.4 2200.8 404.8 2208.3 427.8C2215.8 450.8 2223.3 474.7 2231.0 498.2C2238.7 521.7 2249.8 553.9 2254.7 568.7C2259.6 583.4 2256.5 575.8 2260.5 586.8C2264.6 597.8 2272.2 617.3 2279.0 634.7C2285.8 652.1 2293.9 672.8 2301.4 691.2C2308.9 709.5 2316.5 729.2 2324.0 744.7C2331.6 760.2 2339.0 773.3 2346.5 784.1C2354.0 794.9 2362.0 803.4 2369.0 809.5C2376.1 815.6 2383.9 818.7 2388.6 820.8C2393.4 822.9 2393.9 822.4 2397.7 822.2C2401.4 821.9 2405.2 821.5 2411.3 819.4C2417.3 817.3 2426.3 813.5 2433.8 809.5C2441.3 805.5 2448.8 800.1 2456.3 795.4C2463.8 790.7 2471.3 785.8 2478.8 781.4C2486.3 776.9 2493.9 772.1 2501.4 768.6C2508.9 765.1 2516.4 762.1 2523.9 760.2C2531.4 758.4 2538.9 757.8 2546.4 757.3C2553.9 756.9 2561.5 757.8 2569.0 757.3C2576.5 756.9 2584.0 756.5 2591.5 754.6C2599.0 752.7 2606.5 750.1 2614.0 746.1C2621.5 742.1 2628.6 737.7 2636.6 730.6C2644.6 723.4 2653.6 713.2 2661.8 703.2C2670.0 693.1 2678.7 682.2 2685.8 670.1C2693.0 658.0 2698.3 645.9 2704.6 630.6C2711.0 615.3 2720.9 587.1 2724.1 578.3" stroke="#41b155" stroke-width="8.7"/>
<path d="M1820.6 577.0C1867.2 577.0 2050.4 577.1 2100.0 577.0C2149.6 576.9 2112.2 577.0 2118.0 576.6C2123.8 576.2 2129.3 575.6 2135.0 574.7C2140.7 573.7 2146.2 572.1 2152.0 570.8C2157.8 569.4 2164.0 567.5 2170.0 566.3C2176.0 565.2 2182.0 564.0 2188.0 564.0C2194.0 564.0 2200.3 565.3 2206.0 566.3C2211.7 567.4 2217.0 569.2 2222.0 570.5C2227.0 571.8 2231.3 573.4 2236.0 574.4C2240.7 575.4 2245.2 576.2 2250.0 576.6C2254.8 577.0 2249.2 576.9 2265.0 577.0C2280.8 577.1 2328.0 577.1 2345.0 577.0C2362.0 576.9 2359.8 577.3 2366.9 576.2C2374.0 575.1 2380.7 573.3 2387.6 570.5C2394.5 567.7 2402.1 563.4 2408.4 559.5C2414.8 555.6 2419.8 551.2 2425.7 547.0C2431.5 542.8 2437.9 538.2 2443.5 534.0C2449.1 529.8 2454.2 525.8 2459.5 521.5C2464.8 517.2 2470.2 511.7 2475.0 508.0C2479.8 504.3 2483.6 501.8 2488.0 499.5C2492.4 497.2 2496.9 495.3 2501.3 494.0C2505.8 492.7 2511.3 492.1 2514.7 491.7C2518.1 491.2 2518.1 491.1 2521.8 491.3C2525.5 491.5 2532.1 491.9 2537.0 493.1C2541.9 494.3 2546.4 496.0 2551.2 498.4C2555.9 500.8 2560.8 504.0 2565.5 507.3C2570.2 510.6 2574.9 514.3 2579.7 518.0C2584.4 521.7 2589.2 525.7 2594.0 529.6C2598.8 533.5 2603.6 537.5 2608.3 541.2C2613.1 544.9 2617.9 548.6 2622.5 551.9C2627.1 555.2 2631.4 558.2 2636.0 561.0C2640.6 563.8 2645.3 566.3 2650.0 568.5C2654.7 570.7 2659.0 572.6 2664.0 574.0C2669.0 575.4 2674.0 576.5 2680.0 577.0C2686.0 577.5 2675.0 577.0 2700.0 577.0C2725.0 577.0 2786.4 577.0 2830.0 577.0C2873.6 577.0 2939.6 577.0 2961.5 577.0" stroke="#f8d6cc" stroke-width="8.8"/>
<path d="M1820.6 577.0C1867.2 577.0 2050.4 577.0 2100.0 577.0C2149.6 577.0 2112.2 577.0 2118.0 576.7C2123.8 576.4 2129.3 576.0 2135.0 575.2C2140.7 574.5 2146.2 573.3 2152.0 572.2C2157.8 571.1 2164.0 569.7 2170.0 568.8C2176.0 567.9 2182.0 567.0 2188.0 567.0C2194.0 567.0 2200.3 568.0 2206.0 568.8C2211.7 569.6 2217.0 571.0 2222.0 572.0C2227.0 573.0 2231.3 574.2 2236.0 575.0C2240.7 575.8 2245.2 576.4 2250.0 576.7C2254.8 577.0 2250.3 577.0 2265.0 577.0C2279.7 577.0 2322.8 577.1 2338.0 577.0C2353.2 576.9 2350.5 577.3 2356.5 576.2C2362.5 575.1 2368.0 573.8 2373.8 570.5C2379.6 567.2 2385.3 562.1 2391.1 556.6C2396.9 551.1 2402.6 544.5 2408.4 537.6C2414.2 530.7 2419.9 523.2 2425.7 515.1C2431.5 507.0 2437.2 497.3 2443.0 489.2C2448.8 481.1 2454.4 473.2 2460.2 466.7C2465.9 460.2 2472.5 454.1 2477.5 450.3C2482.5 446.6 2485.8 445.8 2490.0 444.2C2494.2 442.6 2498.9 441.3 2503.0 440.5C2507.1 439.7 2510.2 439.3 2514.7 439.6C2519.2 439.9 2524.9 440.5 2529.8 442.3C2534.7 444.1 2539.3 446.7 2544.1 450.3C2548.8 453.9 2553.6 458.8 2558.3 463.7C2563.1 468.6 2567.8 474.2 2572.6 479.7C2577.4 485.2 2582.2 491.1 2586.9 496.6C2591.7 502.1 2596.3 507.4 2601.1 512.7C2605.8 518.1 2610.6 523.4 2615.4 528.7C2620.2 534.1 2625.6 540.2 2630.0 544.8C2634.4 549.4 2638.0 552.9 2642.0 556.5C2646.0 560.1 2650.0 563.7 2654.0 566.5C2658.0 569.3 2662.0 571.8 2666.0 573.5C2670.0 575.2 2672.3 576.4 2678.0 577.0C2683.7 577.6 2674.7 577.0 2700.0 577.0C2725.3 577.0 2786.4 577.0 2830.0 577.0C2873.6 577.0 2939.6 577.0 2961.5 577.0" stroke="#f1b3a2" stroke-width="8.8"/>
<path d="M1820.6 577.0C1867.2 577.0 2050.4 577.0 2100.0 577.0C2149.6 577.0 2112.2 577.0 2118.0 576.8C2123.8 576.5 2129.3 576.2 2135.0 575.6C2140.7 575.0 2146.2 574.0 2152.0 573.2C2157.8 572.3 2164.0 571.1 2170.0 570.4C2176.0 569.7 2182.0 569.0 2188.0 569.0C2194.0 569.0 2200.3 569.8 2206.0 570.4C2211.7 571.1 2217.0 572.2 2222.0 573.0C2227.0 573.8 2231.3 574.8 2236.0 575.4C2240.7 576.0 2245.2 576.5 2250.0 576.8C2254.8 577.0 2251.7 577.0 2265.0 577.0C2278.3 577.0 2316.2 577.1 2330.0 577.0C2343.8 576.9 2342.2 577.2 2347.8 576.2C2353.4 575.2 2358.5 573.7 2363.4 571.3C2368.3 568.9 2372.6 565.7 2377.2 561.8C2381.8 557.9 2386.5 553.2 2391.1 548.0C2395.7 542.8 2400.3 537.1 2404.9 530.7C2409.5 524.4 2414.1 517.4 2418.7 509.9C2423.3 502.4 2428.3 493.5 2432.6 485.7C2436.9 477.9 2440.7 470.7 2444.7 463.2C2448.7 455.7 2452.8 448.0 2456.8 440.8C2460.8 433.6 2465.1 425.9 2468.9 420.0C2472.7 414.1 2475.7 409.5 2479.5 405.2C2483.3 400.9 2487.8 397.1 2492.0 394.2C2496.2 391.3 2501.4 389.1 2504.7 387.9C2508.0 386.7 2508.8 386.5 2512.0 387.0C2515.2 387.5 2520.2 389.0 2524.0 391.0C2527.8 393.0 2531.6 396.0 2535.0 399.0C2538.4 402.0 2541.6 405.5 2544.5 409.0C2547.4 412.5 2548.8 414.3 2552.3 420.0C2555.8 425.7 2560.9 434.9 2565.5 443.2C2570.1 451.5 2574.9 461.3 2579.7 469.9C2584.4 478.5 2589.2 486.9 2594.0 494.9C2598.8 502.9 2603.6 511.0 2608.3 518.0C2613.1 525.0 2618.2 531.5 2622.5 537.0C2626.8 542.5 2630.2 546.8 2634.0 551.0C2637.8 555.2 2641.3 558.8 2645.0 562.0C2648.7 565.2 2652.3 568.2 2656.0 570.5C2659.7 572.8 2663.7 574.9 2667.0 576.0C2670.3 577.1 2670.5 576.8 2676.0 577.0C2681.5 577.2 2674.3 577.0 2700.0 577.0C2725.7 577.0 2786.4 577.0 2830.0 577.0C2873.6 577.0 2939.6 577.0 2961.5 577.0" stroke="#f0ad9b" stroke-width="8.8"/>
<path d="M1820.6 577.0C1867.2 577.0 2050.4 577.0 2100.0 577.0C2149.6 577.0 2112.2 577.0 2118.0 577.0C2123.8 576.9 2129.3 576.8 2135.0 576.7C2140.7 576.6 2146.2 576.4 2152.0 576.3C2157.8 576.1 2164.0 575.9 2170.0 575.8C2176.0 575.6 2182.0 575.5 2188.0 575.5C2194.0 575.5 2200.3 575.6 2206.0 575.8C2211.7 575.9 2217.0 576.1 2222.0 576.2C2227.0 576.4 2231.3 576.6 2236.0 576.7C2240.7 576.8 2245.2 576.9 2250.0 577.0C2254.8 577.0 2253.3 577.0 2265.0 577.0C2276.7 577.0 2307.6 577.1 2320.0 577.0C2332.4 576.9 2333.7 577.3 2339.2 576.2C2344.7 575.1 2348.4 573.2 2353.0 570.5C2357.6 567.8 2362.3 564.4 2366.9 560.1C2371.5 555.8 2376.1 550.5 2380.7 544.5C2385.3 538.5 2389.9 531.6 2394.5 523.8C2399.1 516.0 2404.1 506.4 2408.4 497.8C2412.7 489.2 2416.5 480.8 2420.5 471.9C2424.5 463.0 2428.8 452.8 2432.6 444.2C2436.3 435.6 2438.8 429.1 2443.0 420.0C2447.2 410.9 2453.0 398.2 2457.5 389.5C2462.0 380.8 2465.8 373.5 2470.0 367.5C2474.2 361.5 2478.4 357.0 2482.6 353.3C2486.8 349.6 2491.3 347.2 2495.2 345.5C2499.1 343.8 2502.5 343.1 2506.2 343.1C2509.9 343.1 2513.8 344.1 2517.2 345.5C2520.6 346.9 2523.5 349.2 2526.7 351.8C2529.8 354.4 2532.7 357.2 2536.1 361.2C2539.5 365.2 2544.2 371.3 2547.0 376.0C2549.8 380.7 2550.8 384.7 2553.0 389.5C2555.2 394.3 2557.8 399.9 2560.0 405.0C2562.2 410.1 2564.2 414.5 2566.5 420.0C2568.8 425.5 2571.2 431.5 2574.0 438.0C2576.8 444.5 2580.0 452.0 2583.0 459.0C2586.0 466.0 2589.0 473.2 2592.0 480.0C2595.0 486.8 2597.9 493.5 2601.0 500.0C2604.1 506.5 2607.3 513.0 2610.5 519.0C2613.7 525.0 2616.8 530.8 2620.0 536.0C2623.2 541.2 2626.7 545.8 2630.0 550.0C2633.3 554.2 2636.7 557.8 2640.0 561.0C2643.3 564.2 2646.7 567.2 2650.0 569.5C2653.3 571.8 2656.7 573.8 2660.0 575.0C2663.3 576.2 2663.3 576.7 2670.0 577.0C2676.7 577.3 2673.3 577.0 2700.0 577.0C2726.7 577.0 2786.4 577.0 2830.0 577.0C2873.6 577.0 2939.6 577.0 2961.5 577.0" stroke="#e9917a" stroke-width="8.8"/>
<path d="M1820.6 577.0C1898.8 577.0 2209.1 577.1 2290.0 577.0C2370.9 576.9 2300.7 576.9 2306.0 576.6C2311.3 576.4 2317.0 576.4 2322.0 575.5C2327.0 574.6 2331.6 573.2 2336.0 571.5C2340.4 569.8 2344.5 567.7 2348.5 565.0C2352.5 562.3 2356.1 559.4 2360.0 555.2C2363.9 551.0 2368.0 545.7 2372.0 539.6C2376.0 533.5 2380.2 526.1 2384.0 518.9C2387.8 511.7 2391.0 504.2 2394.5 496.4C2398.0 488.6 2401.4 480.6 2405.0 472.2C2408.6 463.8 2412.2 454.9 2416.0 446.2C2419.8 437.5 2423.2 431.0 2428.0 420.0C2432.8 409.0 2440.0 391.4 2444.9 380.0C2449.8 368.6 2453.3 359.9 2457.5 351.8C2461.7 343.7 2465.8 336.8 2470.0 331.3C2474.2 325.8 2478.4 321.7 2482.6 318.7C2486.8 315.7 2491.5 314.1 2495.2 313.2C2498.9 312.3 2501.5 312.5 2504.7 313.2C2507.8 313.9 2511.0 315.0 2514.1 317.2C2517.2 319.4 2520.3 322.9 2523.5 326.6C2526.7 330.3 2529.9 334.5 2533.0 339.2C2536.1 343.9 2539.0 349.4 2542.0 355.0C2545.0 360.6 2548.0 366.8 2551.0 373.0C2554.0 379.2 2557.1 385.7 2560.0 392.0C2562.9 398.3 2565.8 404.8 2568.5 411.0C2571.2 417.2 2573.6 423.1 2576.0 429.0C2578.4 434.9 2580.8 440.8 2583.0 446.5C2585.2 452.2 2587.3 457.8 2589.5 463.5C2591.7 469.2 2593.8 474.9 2596.0 480.5C2598.2 486.1 2600.4 491.4 2603.0 497.0C2605.6 502.6 2608.4 508.2 2611.5 514.0C2614.6 519.8 2618.1 526.1 2621.5 531.5C2624.9 536.9 2628.5 542.0 2632.0 546.5C2635.5 551.0 2639.2 554.9 2642.5 558.5C2645.8 562.1 2648.9 565.2 2652.0 568.0C2655.1 570.8 2658.2 573.4 2661.0 575.0C2663.8 576.6 2666.7 577.6 2669.0 577.8C2671.3 578.0 2672.3 576.9 2675.0 576.0C2677.7 575.1 2681.7 573.5 2685.0 572.5C2688.3 571.5 2692.0 570.5 2695.0 570.0C2698.0 569.5 2700.2 569.2 2703.0 569.5C2705.8 569.8 2708.8 570.6 2712.0 571.5C2715.2 572.4 2718.8 574.0 2722.0 575.0C2725.2 576.0 2728.0 577.4 2731.0 577.5C2734.0 577.6 2736.8 576.2 2740.0 575.5C2743.2 574.8 2746.7 574.1 2750.0 573.5C2753.3 572.9 2757.0 572.0 2760.0 572.0C2763.0 572.0 2765.3 572.8 2768.0 573.5C2770.7 574.2 2773.3 575.4 2776.0 576.0C2778.7 576.6 2775.0 577.0 2784.0 577.2C2793.0 577.4 2800.4 577.0 2830.0 577.0C2859.6 577.0 2939.6 577.0 2961.5 577.0" stroke="#b3492a" stroke-width="8.8"/>
<path d="M1820.6 577.0C1898.0 577.0 2205.1 577.1 2285.0 577.0C2364.9 576.9 2294.5 576.9 2300.0 576.6C2305.5 576.3 2312.8 575.9 2318.0 575.0C2323.2 574.1 2326.8 572.7 2331.0 571.0C2335.2 569.3 2339.2 567.6 2343.0 565.0C2346.8 562.4 2350.2 559.4 2354.0 555.2C2357.8 551.0 2361.7 545.7 2365.5 539.6C2369.3 533.5 2373.4 526.1 2377.0 518.9C2380.6 511.7 2383.7 504.2 2387.0 496.4C2390.3 488.6 2393.6 480.6 2397.0 472.2C2400.4 463.8 2403.8 454.9 2407.5 446.2C2411.2 437.5 2414.6 430.5 2419.0 420.0C2423.4 409.5 2429.4 394.1 2434.0 383.2C2438.6 372.3 2442.3 364.1 2446.5 354.9C2450.7 345.7 2455.1 335.5 2459.0 328.2C2462.9 320.9 2466.3 315.6 2470.0 310.9C2473.7 306.2 2477.1 302.4 2481.0 299.9C2484.9 297.4 2489.4 295.9 2493.6 295.9C2497.8 295.9 2502.3 297.4 2506.2 299.9C2510.1 302.4 2513.8 306.7 2517.2 310.9C2520.6 315.1 2523.7 320.0 2526.7 325.0C2529.7 330.0 2531.9 335.1 2535.0 341.0C2538.1 346.9 2541.7 353.8 2545.0 360.5C2548.3 367.2 2551.8 374.8 2555.0 381.5C2558.2 388.2 2561.2 394.8 2564.0 401.0C2566.8 407.2 2569.2 413.3 2571.5 419.0C2573.8 424.7 2575.8 429.3 2578.0 435.0C2580.2 440.7 2582.8 447.2 2585.0 453.0C2587.2 458.8 2589.3 464.3 2591.5 470.0C2593.7 475.7 2595.7 481.4 2598.0 487.0C2600.3 492.6 2602.7 497.8 2605.5 503.5C2608.3 509.2 2611.7 515.2 2615.0 521.0C2618.3 526.8 2622.0 532.8 2625.5 538.0C2629.0 543.2 2632.5 548.2 2636.0 552.5C2639.5 556.8 2643.2 560.3 2646.5 563.5C2649.8 566.7 2653.1 569.3 2656.0 571.5C2658.9 573.7 2661.7 575.5 2664.0 576.5C2666.3 577.5 2668.2 577.9 2670.0 577.8C2671.8 577.7 2672.5 576.9 2675.0 576.0C2677.5 575.1 2681.7 573.5 2685.0 572.5C2688.3 571.5 2692.0 570.5 2695.0 570.0C2698.0 569.5 2700.2 569.2 2703.0 569.5C2705.8 569.8 2708.8 570.6 2712.0 571.5C2715.2 572.4 2718.8 574.0 2722.0 575.0C2725.2 576.0 2728.0 577.4 2731.0 577.5C2734.0 577.6 2736.8 576.2 2740.0 575.5C2743.2 574.8 2746.7 574.1 2750.0 573.5C2753.3 572.9 2757.0 572.0 2760.0 572.0C2763.0 572.0 2765.3 572.8 2768.0 573.5C2770.7 574.2 2773.3 575.4 2776.0 576.0C2778.7 576.6 2775.0 577.0 2784.0 577.2C2793.0 577.4 2800.4 577.0 2830.0 577.0C2859.6 577.0 2939.6 577.0 2961.5 577.0" stroke="#b3492a" stroke-width="8.8"/>
<path d="M1820.6 577.0C1895.5 577.0 2192.2 577.0 2270.0 576.8C2347.8 576.6 2281.5 576.5 2287.3 576.0C2293.1 575.5 2298.8 575.1 2304.6 573.9C2310.4 572.7 2316.7 571.1 2321.9 569.0C2327.1 566.9 2331.4 564.5 2335.7 561.3C2340.0 558.1 2343.8 554.8 2347.8 550.0C2351.8 545.2 2355.9 539.3 2359.9 532.7C2363.9 526.1 2368.2 517.7 2372.0 510.2C2375.8 502.7 2379.2 495.0 2382.4 487.8C2385.6 480.6 2388.2 473.9 2391.1 467.0C2394.0 460.1 2396.8 453.2 2399.7 446.2C2402.6 439.2 2405.5 432.4 2408.4 425.0C2411.3 417.6 2414.1 409.5 2417.0 402.0C2419.9 394.5 2422.9 387.9 2426.0 380.0C2429.1 372.1 2431.8 363.8 2435.5 354.9C2439.2 346.0 2443.8 334.7 2448.0 326.6C2452.2 318.5 2456.4 311.7 2460.6 306.2C2464.8 300.7 2468.2 296.9 2473.2 293.6C2478.2 290.3 2485.2 286.5 2490.5 286.2C2495.8 285.9 2500.4 288.7 2505.2 292.0C2510.0 295.3 2514.9 300.7 2519.3 306.2C2523.8 311.7 2528.0 318.4 2531.9 325.0C2535.8 331.6 2539.5 338.9 2542.9 345.5C2546.3 352.1 2549.2 357.5 2552.3 364.3C2555.4 371.1 2558.8 379.6 2561.5 386.4C2564.2 393.2 2566.4 399.4 2568.5 405.0C2570.6 410.6 2571.9 414.3 2574.0 420.0C2576.1 425.7 2578.8 433.0 2581.0 439.0C2583.2 445.0 2585.3 450.3 2587.5 456.0C2589.7 461.7 2591.8 467.3 2594.0 473.0C2596.2 478.7 2598.2 484.1 2601.0 490.0C2603.8 495.9 2607.2 502.3 2610.5 508.5C2613.8 514.7 2617.5 521.2 2621.0 527.0C2624.5 532.8 2628.0 538.2 2631.5 543.0C2635.0 547.8 2638.6 552.0 2642.0 556.0C2645.4 560.0 2649.0 563.9 2652.0 567.0C2655.0 570.1 2657.7 572.6 2660.0 574.5C2662.3 576.4 2663.9 578.1 2666.1 578.2C2668.3 578.3 2670.3 576.7 2673.0 575.3C2675.7 573.9 2679.2 571.2 2682.3 569.6C2685.4 568.0 2688.6 566.4 2691.5 565.5C2694.4 564.6 2696.7 564.3 2699.6 564.4C2702.5 564.5 2705.7 565.0 2708.8 566.1C2711.9 567.2 2714.9 569.1 2718.0 570.7C2721.1 572.3 2724.7 574.8 2727.2 575.9C2729.7 577.0 2731.1 578.1 2733.0 577.6C2734.9 577.1 2736.1 574.3 2738.8 573.0C2741.5 571.7 2745.8 570.6 2749.2 569.6C2752.6 568.6 2756.6 567.3 2759.5 567.3C2762.4 567.3 2764.0 568.5 2766.5 569.6C2769.0 570.8 2772.0 573.0 2774.5 574.2C2777.0 575.4 2777.6 576.2 2781.4 576.7C2785.2 577.2 2789.5 577.2 2797.6 577.2C2805.7 577.2 2802.7 577.0 2830.0 577.0C2857.3 577.0 2939.6 577.0 2961.5 577.0" stroke="#6f3022" stroke-width="9"/>
</g>
<g stroke="#1a1718" stroke-width="3" fill="none">
<line x1="2200.7" y1="560.2" x2="2200.7" y2="577"/>
<line x1="2580.8" y1="560.2" x2="2580.8" y2="577"/>
<line x1="1820.6" y1="266.9" x2="1842.6" y2="266.9"/>
<line x1="2938.5" y1="266.9" x2="2961.5" y2="266.9"/>
<line x1="1820.6" y1="370.2" x2="1842.6" y2="370.2"/>
<line x1="2938.5" y1="370.2" x2="2961.5" y2="370.2"/>
<line x1="1820.6" y1="473.5" x2="1842.6" y2="473.5"/>
<line x1="2938.5" y1="473.5" x2="2961.5" y2="473.5"/>
<line x1="1820.6" y1="680.1" x2="1842.6" y2="680.1"/>
<line x1="2938.5" y1="680.1" x2="2961.5" y2="680.1"/>
<line x1="1820.6" y1="783.4" x2="1842.6" y2="783.4"/>
<line x1="2938.5" y1="783.4" x2="2961.5" y2="783.4"/>
<line x1="1820.6" y1="886.7" x2="1842.6" y2="886.7"/>
<line x1="2938.5" y1="886.7" x2="2961.5" y2="886.7"/>
<rect x="1820.6" y="163.4" width="1140.9" height="827"/>
</g>
<path transform="scale(1.45 1)" d="M1904.8 237.7C1901.1 238.3 1889.6 240.2 1882.6 241.5C1875.7 242.8 1869.6 244.0 1863.1 245.8C1856.6 247.6 1850.1 249.8 1843.6 252.5C1837.1 255.2 1830.6 258.1 1824.1 261.9C1817.6 265.7 1810.0 270.9 1804.6 275.1C1799.1 279.4 1795.6 283.0 1791.5 287.4C1787.5 291.8 1783.6 297.0 1780.3 301.5C1777.0 306.0 1774.4 310.2 1771.7 314.5C1769.1 318.8 1767.4 321.8 1764.6 327.5C1761.7 333.2 1757.9 341.4 1754.8 348.6C1751.8 355.8 1749.0 362.7 1746.1 370.6C1743.2 378.5 1740.2 387.6 1737.4 395.8C1734.7 404.0 1732.3 411.0 1729.9 420.0C1727.4 429.0 1724.9 439.2 1722.8 450.0C1720.6 460.8 1718.7 473.3 1716.9 485.0C1715.1 496.7 1713.4 509.5 1712.1 520.0C1710.7 530.5 1709.2 543.3 1708.6 548.0" fill="none" stroke="#1a2835" stroke-width="4.7"/>
<path d="M2451.4 545.7L2500.9 551L2469.6 583.1Z" fill="#1a2835"/>
<g stroke="#1a1718" stroke-width="4.3">
<line x1="2529.5" y1="337.8" x2="2557.0" y2="354.1"/>
<line x1="2519.4" y1="350.5" x2="2547.4" y2="366.3"/>
<line x1="2506.8" y1="378.5" x2="2534.0" y2="394.8"/>
<line x1="2484.4" y1="433.6" x2="2513.6" y2="452.0"/>
<line x1="2468.4" y1="498.6" x2="2496.6" y2="517.0"/>
</g>
<text x="2831.0" y="231.3" font-size="55.7" text-anchor="middle" fill="#231f20">Nail</text>
<text x="2827.0" y="299.6" font-size="55.7" text-anchor="middle" fill="#231f20">1 to 7</text>
<text transform="translate(1799.0 182.0) scale(0.955 1)" font-size="57" text-anchor="end" fill="#231f20">8</text>
<text transform="translate(2980.0 182.0) scale(0.955 1)" font-size="57" text-anchor="start" fill="#231f20">8</text>
<text transform="translate(1799.0 285.3) scale(0.955 1)" font-size="57" text-anchor="end" fill="#231f20">6</text>
<text transform="translate(2980.0 285.3) scale(0.955 1)" font-size="57" text-anchor="start" fill="#231f20">6</text>
<text transform="translate(1799.0 388.6) scale(0.955 1)" font-size="57" text-anchor="end" fill="#231f20">4</text>
<text transform="translate(2980.0 388.6) scale(0.955 1)" font-size="57" text-anchor="start" fill="#231f20">4</text>
<text transform="translate(1799.0 491.9) scale(0.955 1)" font-size="57" text-anchor="end" fill="#231f20">2</text>
<text transform="translate(2980.0 491.9) scale(0.955 1)" font-size="57" text-anchor="start" fill="#231f20">2</text>
<text transform="translate(1799.0 595.2) scale(0.955 1)" font-size="57" text-anchor="end" fill="#231f20">0</text>
<text transform="translate(2980.0 595.2) scale(0.955 1)" font-size="57" text-anchor="start" fill="#231f20">0</text>
<text transform="translate(1799.0 698.5) scale(0.955 1)" font-size="57" text-anchor="end" fill="#231f20">−2</text>
<text transform="translate(2980.0 698.5) scale(0.955 1)" font-size="57" text-anchor="start" fill="#231f20">−2</text>
<text transform="translate(1799.0 801.8) scale(0.955 1)" font-size="57" text-anchor="end" fill="#231f20">−4</text>
<text transform="translate(2980.0 801.8) scale(0.955 1)" font-size="57" text-anchor="start" fill="#231f20">−4</text>
<text transform="translate(1799.0 905.1) scale(0.955 1)" font-size="57" text-anchor="end" fill="#231f20">−6</text>
<text transform="translate(2980.0 905.1) scale(0.955 1)" font-size="57" text-anchor="start" fill="#231f20">−6</text>
<text transform="translate(1799.0 1008.4) scale(0.955 1)" font-size="57" text-anchor="end" fill="#231f20">−8</text>
<text transform="translate(2980.0 1008.4) scale(0.955 1)" font-size="57" text-anchor="start" fill="#231f20">−8</text>
<text transform="translate(1700.3 576.0) rotate(-90)" font-size="55.7" text-anchor="middle" fill="#231f20">Stud displacement/mm</text>
<text transform="translate(3117.2 577.0) rotate(-90)" font-size="55.7" text-anchor="middle" fill="#231f20">Nail axial displacement/mm</text>
<text x="2392.0" y="1069.5" font-size="55.7" text-anchor="middle" fill="#231f20">Time/s</text>
<text x="2393.0" y="1149.5" font-size="55.7" text-anchor="middle" fill="#231f20">(b) Axial displacement of nails</text>
<g fill="none" stroke-linecap="round">
<line x1="1887.3" y1="98.3" x2="2024.5" y2="98.3" stroke="#3a6cba" stroke-width="8.8"/>
<line x1="2439.6" y1="98.3" x2="2577.4" y2="98.3" stroke="#41b155" stroke-width="8.8"/>
</g>
<text x="2042.5" y="115.6" font-size="55.3" text-anchor="start" fill="#231f20">FE-stud 2&amp;5</text>
<text x="2595.5" y="115.6" font-size="55.3" text-anchor="start" fill="#231f20">FE stud-3&amp;4</text>
</svg>
</body></html>
